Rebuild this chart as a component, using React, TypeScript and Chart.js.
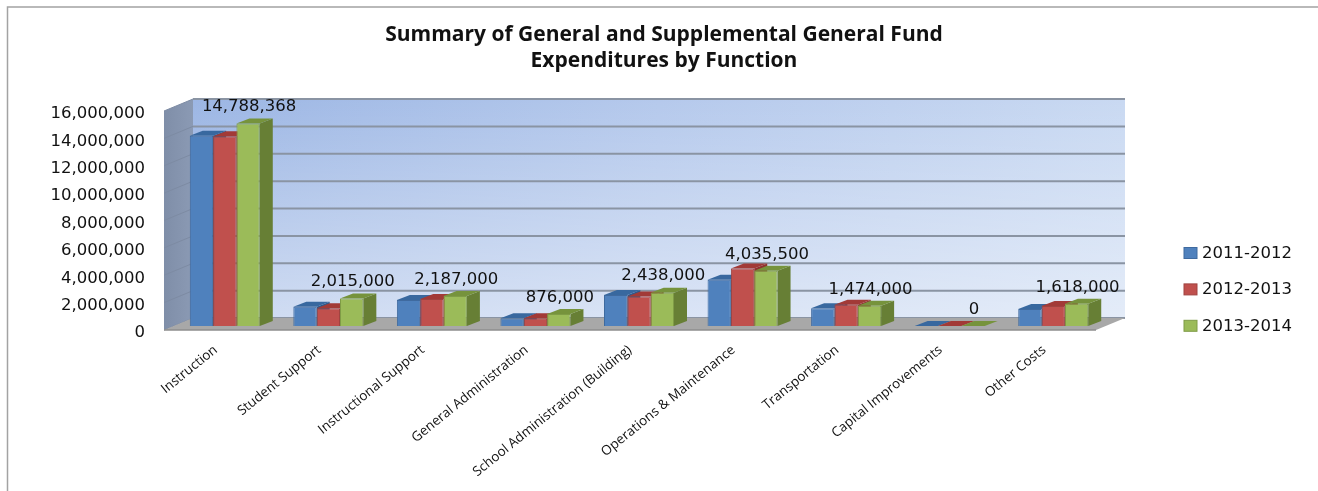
import React, { useEffect, useRef } from "react";
import { Chart, registerables } from "chart.js";

Chart.register(...registerables);

const chartTitle = ["Summary of General and Supplemental General Fund", "Expenditures by Function"];
const categories = [
  "Instruction",
  "Student Support",
  "Instructional Support",
  "General Administration",
  "School Administration (Building)",
  "Operations & Maintenance",
  "Transportation",
  "Capital Improvements",
  "Other Costs",
];
const years = ["2011-2012", "2012-2013", "2013-2014"];
const spending2011 = [13900000, 1410000, 1900000, 560000, 2270000, 3370000, 1300000, 0, 1250000];
const spending2012 = [13870000, 1300000, 1980000, 560000, 2150000, 4200000, 1550000, 0, 1470000];
const spending2013 = [14788368, 2015000, 2187000, 876000, 2438000, 4035500, 1474000, 0, 1618000];

const faces = [
  { front: "#4f81bd", border: "#3f6a9f", top: "#38689f", side: "#2f5a8c" },
  { front: "#c0504d", border: "#a04340", top: "#a23a37", side: "#8f3330" },
  { front: "#9bbb59", border: "#7f9c46", top: "#76933c", side: "#677f35" },
];

const TEXT = "#111111";
const NUM_FONT = { family: "'DejaVu Sans'", size: 16.5 };
// Offsets of the 3D planes, measured from the value axis.
const FRONT_DY = -3;
const WALL_DX = 29;
const WALL_DY = -15;
const BAR_DX = 9;
const BAR_DY = -7;
const DEPTH_DX = 13;
const DEPTH_DY = -5;

// Room behind the bars: side wall, back wall, floor and wall grid lines.
const roomPlugin = {
  id: "room",
  beforeDatasetsDraw(chart: any) {
    const { ctx, chartArea: a, scales } = chart;
    const y = scales.y;
    const bx = a.left + WALL_DX;
    const rx = a.right + WALL_DX;
    const wallTop = a.top + WALL_DY;
    const wallHeight = a.bottom - a.top;
    const frontTop = a.top + FRONT_DY;
    const frontBottom = a.bottom + FRONT_DY;
    ctx.save();

    // Blue wall that lightens both to the right and downwards.
    const across = ctx.createLinearGradient(bx, 0, rx, 0);
    across.addColorStop(0, "#9cb6e4");
    across.addColorStop(0.5, "#b5c9ec");
    across.addColorStop(1, "#c9d9f2");
    ctx.fillStyle = across;
    ctx.fillRect(bx, wallTop, rx - bx, wallHeight);
    const down = ctx.createLinearGradient(0, wallTop, 0, wallTop + wallHeight);
    down.addColorStop(0, "rgba(255,255,255,0)");
    down.addColorStop(1, "rgba(255,255,255,0.5)");
    ctx.fillStyle = down;
    ctx.fillRect(bx, wallTop, rx - bx, wallHeight);

    const side = ctx.createLinearGradient(a.left, 0, bx, 0);
    side.addColorStop(0, "#7f8ea8");
    side.addColorStop(1, "#8b9ab4");
    ctx.fillStyle = side;
    ctx.beginPath();
    ctx.moveTo(a.left, frontBottom);
    ctx.lineTo(a.left, frontTop);
    ctx.lineTo(bx, wallTop);
    ctx.lineTo(bx, wallTop + wallHeight);
    ctx.closePath();
    ctx.fill();

    for (const tick of y.ticks) {
      const py = y.getPixelForValue(tick.value);
      ctx.strokeStyle = "#8a94a3";
      ctx.lineWidth = 2;
      ctx.beginPath();
      ctx.moveTo(bx, py + WALL_DY);
      ctx.lineTo(rx, py + WALL_DY);
      ctx.stroke();
      ctx.strokeStyle = "#7d8ba3";
      ctx.lineWidth = 1;
      ctx.beginPath();
      ctx.moveTo(a.left, py + FRONT_DY);
      ctx.lineTo(bx, py + WALL_DY);
      ctx.stroke();
    }

    ctx.fillStyle = "#a8a8a8";
    ctx.beginPath();
    ctx.moveTo(a.left, frontBottom);
    ctx.lineTo(a.right, frontBottom);
    ctx.lineTo(rx, wallTop + wallHeight);
    ctx.lineTo(bx, wallTop + wallHeight);
    ctx.closePath();
    ctx.fill();
    ctx.strokeStyle = "#8e8e8e";
    ctx.lineWidth = 1.5;
    ctx.beginPath();
    ctx.moveTo(a.left, frontBottom);
    ctx.lineTo(a.right, frontBottom);
    ctx.stroke();

    ctx.restore();
  },
};

// Extrudes each bar: tops and right faces first, then shifts the front faces onto the floor.
const extrudePlugin = {
  id: "extrude",
  beforeDatasetsDraw(chart: any) {
    const { ctx } = chart;
    ctx.save();
    ctx.translate(BAR_DX, BAR_DY);
    chart.data.datasets.forEach((_: any, i: number) => {
      const face = faces[i];
      chart.getDatasetMeta(i).data.forEach((bar: any) => {
        const l = bar.x - bar.width / 2;
        const r = bar.x + bar.width / 2;
        ctx.fillStyle = face.side;
        ctx.beginPath();
        ctx.moveTo(r, bar.y);
        ctx.lineTo(r + DEPTH_DX, bar.y + DEPTH_DY);
        ctx.lineTo(r + DEPTH_DX, bar.base + DEPTH_DY);
        ctx.lineTo(r, bar.base);
        ctx.closePath();
        ctx.fill();
        ctx.fillStyle = face.top;
        ctx.beginPath();
        ctx.moveTo(l, bar.y);
        ctx.lineTo(l + DEPTH_DX, bar.y + DEPTH_DY);
        ctx.lineTo(r + DEPTH_DX, bar.y + DEPTH_DY);
        ctx.lineTo(r, bar.y);
        ctx.closePath();
        ctx.fill();
      });
    });
  },
  afterDatasetsDraw(chart: any) {
    chart.ctx.restore();
  },
};

// Frame, title, value labels over the latest year and the legend.
const annotationPlugin = {
  id: "annotations",
  afterDraw(chart: any) {
    const { ctx, width, height } = chart;
    ctx.save();

    ctx.strokeStyle = "#a3a3a3";
    ctx.lineWidth = 1.5;
    ctx.beginPath();
    ctx.moveTo(7.5, height);
    ctx.lineTo(7.5, 7);
    ctx.lineTo(width, 7);
    ctx.stroke();

    ctx.fillStyle = TEXT;
    ctx.textAlign = "center";
    ctx.textBaseline = "middle";
    ctx.font = "bold 21px 'Open Sans'";
    chartTitle.forEach((line, i) => ctx.fillText(line, 664, 35 + i * 26));

    ctx.font = `${NUM_FONT.size}px ${NUM_FONT.family}`;
    const last = chart.data.datasets.length - 1;
    chart.getDatasetMeta(last).data.forEach((bar: any, i: number) => {
      const value = chart.data.datasets[last].data[i];
      ctx.fillText(value.toLocaleString("en-US"), bar.x + BAR_DX + 1, bar.y + BAR_DY - 16.5);
    });

    ctx.textAlign = "left";
    chart.data.datasets.forEach((ds: any, i: number) => {
      const cy = 253 + i * 36.4;
      ctx.fillStyle = faces[i].front;
      ctx.strokeStyle = faces[i].border;
      ctx.lineWidth = 1;
      ctx.fillRect(1184, cy - 5.5, 13, 11);
      ctx.strokeRect(1184, cy - 5.5, 13, 11);
      ctx.fillStyle = TEXT;
      ctx.fillText(ds.label, 1202, cy + 0.5);
    });

    ctx.restore();
  },
};

export default function App() {
  const ref = useRef<HTMLCanvasElement>(null);

  useEffect(() => {
    document.body.style.margin = "0";
    const series = [spending2011, spending2012, spending2013];
    const chart = new Chart(ref.current!, {
      type: "bar",
      data: {
        labels: categories,
        datasets: years.map((label, i) => ({
          label,
          data: series[i],
          backgroundColor: faces[i].front,
          borderColor: faces[i].border,
          borderWidth: 1,
          categoryPercentage: 0.676,
          barPercentage: 1,
        })),
      },
      options: {
        responsive: false,
        animation: false,
        layout: { padding: { left: 0, right: 222, top: 114, bottom: 0 } },
        plugins: {
          legend: { display: false },
          tooltip: { enabled: false },
          title: { display: false },
        },
        scales: {
          x: {
            grid: { display: false, drawTicks: false },
            border: { display: false },
            afterFit: (s: any) => {
              s.height = 158;
            },
            ticks: {
              autoSkip: false,
              minRotation: 39,
              maxRotation: 39,
              padding: 9,
              color: TEXT,
              font: { family: "'Open Sans'", size: 13.4 },
            },
          },
          y: {
            min: 0,
            max: 16000000,
            grid: { display: false, drawTicks: false },
            border: { display: false },
            afterFit: (s: any) => {
              s.width = 164;
            },
            ticks: {
              stepSize: 2000000,
              padding: 19,
              color: TEXT,
              font: NUM_FONT,
              callback: (v: any) => Number(v).toLocaleString("en-US"),
            },
          },
        },
      } as any,
      plugins: [roomPlugin, extrudePlugin, annotationPlugin],
    });
    return () => chart.destroy();
  }, []);

  return <canvas ref={ref} width={1318} height={491} style={{ display: "block" }} />;
}
